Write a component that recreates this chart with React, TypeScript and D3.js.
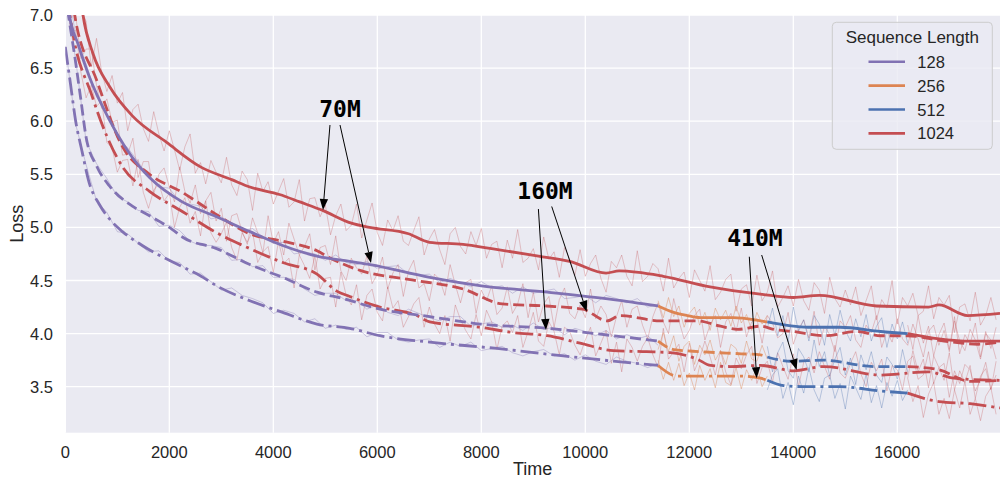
import React from "react";
import * as d3 from "d3";

const W = 1002;
const H = 480;
const PLOT = { left: 65.3, right: 1000, top: 15, bottom: 432.7 };

const X_MAX = 17975;
const Y_MIN = 3.067;
const Y_MAX = 7.0;
const xTicks = [0, 2000, 4000, 6000, 8000, 10000, 12000, 14000, 16000];
const yTicks = [3.5, 4.0, 4.5, 5.0, 5.5, 6.0, 6.5, 7.0];

const seqLengths = ["128", "256", "512", "1024"];
const seqColors = ["#8172B3", "#DD8452", "#4C72B0", "#C44E52"];
const modelNames = ["70M", "160M", "410M"];
const modelDash = ["none", "11,5", "18,5,3,5"];

// ---- smoothed curves: [time, loss] ----
// 128 phase (curriculum)
const p70 = [[0, 7.4], [80, 7.0], [250, 6.72], [460, 6.42], [850, 6.01], [1430, 5.57], [1620, 5.47], [2250, 5.24], [2910, 5.1], [3550, 4.96], [4180, 4.83], [4840, 4.73], [5470, 4.68], [5860, 4.65], [7010, 4.53], [8000, 4.45], [9270, 4.39], [10540, 4.32], [11400, 4.26]];
const p160 = [[0, 7.2], [60, 7.0], [200, 6.55], [300, 6.2], [400, 5.85], [600, 5.58], [850, 5.39], [1290, 5.2], [1620, 5.11], [2060, 4.98], [2250, 4.91], [2910, 4.8], [3550, 4.65], [4180, 4.53], [4840, 4.39], [5340, 4.33], [6050, 4.23], [7010, 4.16], [7980, 4.09], [9270, 4.05], [10540, 3.98], [11400, 3.93]];
const p410 = [[0, 6.7], [100, 6.35], [200, 6.0], [320, 5.72], [460, 5.42], [650, 5.22], [850, 5.08], [1100, 4.96], [1480, 4.83], [2250, 4.63], [2580, 4.55], [2910, 4.45], [3550, 4.31], [4180, 4.2], [4840, 4.09], [5470, 4.05], [6050, 3.98], [7010, 3.92], [8300, 3.86], [9580, 3.79], [11400, 3.7]];
// 256 phase
const o70 = [[11400, 4.26], [11700, 4.2], [11960, 4.17], [12215, 4.15], [12850, 4.15], [13370, 4.12], [13500, 4.11]];
const o160 = [[11400, 3.93], [11700, 3.85], [12215, 3.83], [13000, 3.81], [13370, 3.8], [13500, 3.78]];
const o410 = [[11400, 3.7], [11770, 3.6], [12270, 3.6], [13000, 3.6], [13370, 3.58], [13500, 3.56]];
// 512 phase
const b70 = [[13500, 4.11], [14280, 4.06], [14900, 4.06], [15680, 4.02], [16200, 4.0]];
const b160 = [[13500, 3.78], [13950, 3.74], [14580, 3.75], [15550, 3.69], [16200, 3.69]];
const b410 = [[13500, 3.56], [13815, 3.51], [14280, 3.5], [14900, 3.5], [15680, 3.46], [16200, 3.44]];
// 1024 phase of curriculum
const c70 = [[16200, 4.0], [16800, 3.95], [17300, 3.93], [17975, 3.93]];
const c160 = [[16200, 3.69], [16800, 3.66], [17400, 3.55], [17975, 3.56]];
const c410 = [[16200, 3.44], [16800, 3.36], [17400, 3.34], [17975, 3.3]];
// 1024 baselines
const r70 = [[0, 9.0], [200, 7.6], [340, 7.0], [530, 6.64], [860, 6.32], [1290, 6.05], [1950, 5.8], [2600, 5.57], [3200, 5.45], [3550, 5.38], [4120, 5.31], [4510, 5.24], [4950, 5.16], [5500, 5.04], [5850, 5.0], [6600, 4.94], [7000, 4.86], [7650, 4.84], [8200, 4.8], [9100, 4.73], [9700, 4.68], [10400, 4.57], [10650, 4.59], [11500, 4.54], [12400, 4.44], [13400, 4.37], [14000, 4.34], [14500, 4.36], [15600, 4.26], [16600, 4.25], [16800, 4.27], [17350, 4.17], [17975, 4.19]];
const r160 = [[0, 8.4], [180, 7.0], [600, 6.39], [1100, 5.76], [1620, 5.5], [2250, 5.33], [2910, 5.12], [3550, 4.94], [4180, 4.87], [4840, 4.78], [5100, 4.71], [5700, 4.59], [6600, 4.51], [7650, 4.42], [8400, 4.28], [9250, 4.26], [9950, 4.23], [10420, 4.12], [10670, 4.17], [11450, 4.12], [12150, 4.12], [12600, 4.07], [12930, 4.04], [13370, 4.07], [13620, 4.04], [14000, 4.02], [14590, 3.98], [15240, 4.02], [15680, 3.98], [16200, 3.98], [16900, 3.93], [17550, 3.9], [17975, 3.92]];
const r410 = [[0, 7.8], [90, 7.0], [520, 6.23], [1100, 5.57], [1620, 5.34], [2250, 5.15], [2910, 4.95], [3550, 4.8], [4180, 4.67], [4840, 4.56], [5220, 4.4], [5470, 4.35], [6050, 4.25], [6760, 4.17], [7010, 4.11], [7980, 4.06], [8610, 4.01], [9270, 3.98], [9900, 3.91], [10540, 3.84], [11180, 3.83], [11640, 3.82], [12150, 3.76], [12410, 3.7], [12790, 3.69], [13370, 3.7], [14010, 3.65], [14590, 3.69], [15680, 3.61], [16590, 3.64], [17090, 3.58], [17975, 3.56]];

// ---- raw (unsmoothed) traces: values at regular steps ----
const RED_RAW_START = 0;
const RED_RAW_STEP = 100;
const r70Raw = [8.25, 7.68, 7.58, 7.05, 6.94, 6.51, 6.78, 6.46, 6.28, 6.43, 6.17, 6.27, 5.91, 6.11, 6.16, 5.93, 5.81, 6.09, 5.88, 5.72, 5.91, 5.73, 5.54, 5.76, 5.88, 5.51, 5.61, 5.41, 5.63, 5.52, 5.42, 5.66, 5.4, 5.3, 5.53, 5.45, 5.16, 5.51, 5.34, 5.43, 5.22, 5.34, 5.46, 5.19, 5.24, 5.45, 5.06, 5.27, 5.28, 5.1, 5.21, 4.93, 5.11, 5.22, 4.97, 5.02, 5.22, 4.9, 5.07, 5.23, 4.95, 4.83, 5.07, 4.97, 5.11, 4.87, 4.83, 4.97, 5.1, 4.74, 4.89, 4.98, 4.79, 4.65, 4.94, 5.0, 4.82, 4.75, 4.96, 4.83, 4.99, 4.71, 4.84, 4.87, 4.62, 4.88, 4.71, 4.98, 4.67, 4.71, 4.8, 4.6, 4.91, 4.7, 4.77, 4.53, 4.81, 4.7, 4.55, 4.79, 4.54, 4.66, 4.74, 4.52, 4.39, 4.68, 4.62, 4.74, 4.54, 4.45, 4.78, 4.49, 4.54, 4.66, 4.61, 4.4, 4.71, 4.43, 4.52, 4.58, 4.34, 4.6, 4.5, 4.4, 4.64, 4.32, 4.39, 4.51, 4.56, 4.21, 4.42, 4.46, 4.26, 4.55, 4.31, 4.39, 4.59, 4.25, 4.34, 4.45, 4.26, 4.51, 4.31, 4.22, 4.48, 4.41, 4.19, 4.53, 4.33, 4.25, 4.41, 4.27, 4.44, 4.17, 4.31, 4.45, 4.13, 4.32, 4.24, 4.5, 4.09, 4.34, 4.26, 4.38, 4.17, 4.21, 4.45, 4.14, 4.34, 4.27, 4.36, 4.01, 4.25, 4.28, 4.12, 4.39, 4.08, 4.17, 4.34, 4.13];
const r160Raw = [7.91, 7.44, 7.0, 6.59, 6.68, 6.68, 6.34, 6.12, 6.21, 5.99, 6.01, 5.68, 5.69, 5.84, 5.47, 5.62, 5.62, 5.31, 5.5, 5.56, 5.38, 5.24, 5.57, 5.34, 5.23, 5.4, 5.13, 5.25, 5.33, 5.06, 5.18, 4.87, 5.11, 5.13, 4.96, 4.84, 5.09, 4.95, 4.76, 5.11, 4.85, 4.96, 4.74, 5.04, 4.89, 4.74, 4.82, 4.94, 4.6, 4.81, 4.83, 4.65, 4.92, 4.59, 4.5, 4.71, 4.62, 4.56, 4.73, 4.47, 4.56, 4.72, 4.42, 4.57, 4.65, 4.35, 4.59, 4.69, 4.43, 4.47, 4.31, 4.56, 4.51, 4.36, 4.65, 4.46, 4.29, 4.48, 4.51, 4.19, 4.41, 4.31, 4.45, 4.18, 4.24, 4.44, 4.19, 4.28, 4.47, 4.15, 4.39, 4.11, 4.28, 4.35, 4.06, 4.32, 4.43, 4.19, 4.14, 4.27, 4.15, 4.42, 4.14, 4.26, 4.18, 3.97, 4.16, 4.31, 4.06, 4.23, 4.26, 4.08, 3.95, 4.16, 4.29, 4.11, 4.0, 4.33, 4.12, 3.95, 4.03, 4.17, 4.23, 3.94, 4.08, 4.17, 3.87, 4.11, 4.19, 4.02, 4.24, 3.97, 4.11, 4.14, 3.91, 4.17, 4.1, 3.96, 4.0, 4.2, 3.9, 4.04, 4.13, 3.96, 4.21, 3.89, 4.07, 3.99, 3.83, 4.12, 4.06, 4.17, 3.94, 3.87, 4.08, 4.01, 4.17, 3.87, 4.02, 3.92, 4.14, 3.95, 3.89, 4.09, 3.95, 3.78, 4.02, 4.08, 3.89, 4.03, 3.83, 4.12, 3.93, 3.84, 4.04, 3.94, 3.76, 4.0, 3.94, 3.76];
const r410Raw = [7.67, 6.84, 6.86, 6.46, 6.22, 6.34, 6.14, 6.19, 5.8, 5.75, 5.52, 5.63, 5.64, 5.39, 5.64, 5.33, 5.18, 5.35, 5.41, 5.25, 5.32, 5.0, 5.19, 5.28, 5.04, 5.15, 4.92, 5.25, 4.95, 4.86, 4.94, 5.05, 4.81, 4.69, 4.95, 4.86, 4.96, 4.67, 4.77, 4.82, 4.58, 4.87, 4.66, 4.71, 4.43, 4.74, 4.64, 4.52, 4.73, 4.42, 4.52, 4.53, 4.25, 4.58, 4.36, 4.27, 4.46, 4.13, 4.36, 4.42, 4.2, 4.12, 4.44, 4.24, 4.31, 4.06, 4.16, 4.28, 4.34, 4.06, 4.25, 4.09, 4.0, 4.17, 3.93, 4.27, 4.13, 4.03, 3.95, 4.18, 3.98, 4.22, 4.11, 3.85, 4.07, 4.12, 4.01, 4.17, 3.87, 4.02, 4.2, 3.93, 3.88, 4.11, 4.02, 3.8, 4.06, 4.02, 3.89, 3.8, 3.94, 4.06, 3.79, 3.91, 4.03, 3.72, 3.92, 3.64, 3.95, 3.87, 3.74, 3.88, 3.96, 3.8, 3.68, 4.05, 3.76, 3.83, 3.9, 3.64, 3.91, 3.65, 3.77, 3.93, 3.78, 3.61, 3.84, 3.64, 3.52, 3.77, 3.67, 3.8, 3.88, 3.53, 3.68, 3.74, 3.54, 3.82, 3.69, 3.57, 3.81, 3.5, 3.73, 3.78, 3.63, 3.83, 3.69, 3.57, 3.89, 3.63, 3.58, 3.72, 3.83, 3.62, 3.5, 3.73, 3.65, 3.76, 3.46, 3.7, 3.66, 3.47, 3.74, 3.79, 3.57, 3.61, 3.83, 3.53, 3.68, 3.72, 3.4, 3.65, 3.53, 3.71, 3.66, 3.46, 3.57, 3.73, 3.48, 3.61];

const PURPLE_RAW_START = 0;
const PURPLE_RAW_STEP = 200;
const p70Raw = [7.43, 6.8, 6.54, 6.23, 6.07, 5.84, 5.75, 5.62, 5.47, 5.38, 5.37, 5.24, 5.22, 5.2, 5.08, 5.1, 5.03, 4.96, 4.99, 4.91, 4.85, 4.86, 4.75, 4.77, 4.75, 4.69, 4.74, 4.67, 4.65, 4.68, 4.61, 4.63, 4.64, 4.56, 4.55, 4.56, 4.48, 4.52, 4.48, 4.44, 4.49, 4.43, 4.45, 4.38, 4.44, 4.38, 4.4, 4.42, 4.33, 4.34, 4.36, 4.29, 4.36, 4.33, 4.29, 4.33, 4.25, 4.27];
const p160Raw = [7.18, 6.58, 5.81, 5.6, 5.46, 5.29, 5.24, 5.16, 5.15, 5.01, 5.02, 4.97, 4.87, 4.83, 4.83, 4.81, 4.69, 4.7, 4.63, 4.64, 4.53, 4.53, 4.51, 4.42, 4.36, 4.38, 4.38, 4.31, 4.31, 4.23, 4.27, 4.2, 4.17, 4.23, 4.19, 4.15, 4.12, 4.16, 4.16, 4.07, 4.09, 4.11, 4.06, 4.08, 4.03, 4.1, 4.04, 4.06, 3.99, 4.05, 4.02, 3.98, 4.03, 3.95, 3.99, 3.95, 3.98, 3.89];
const p410Raw = [6.71, 5.97, 5.59, 5.25, 5.14, 4.96, 4.94, 4.85, 4.77, 4.78, 4.68, 4.67, 4.56, 4.57, 4.49, 4.41, 4.43, 4.36, 4.33, 4.29, 4.19, 4.22, 4.19, 4.11, 4.14, 4.05, 4.08, 4.04, 4.06, 3.97, 4.01, 4.01, 3.94, 3.92, 3.94, 3.95, 3.87, 3.92, 3.88, 3.92, 3.84, 3.86, 3.88, 3.82, 3.79, 3.83, 3.85, 3.79, 3.81, 3.75, 3.8, 3.74, 3.71, 3.78, 3.74, 3.72, 3.68, 3.72];

const ORANGE_RAW_START = 11400;
const BLUE_RAW_START = 13500;
const CONT_RAW_START = 16200;
const PHASE_RAW_STEP = 100;
const o70Raw = [4.31, 4.15, 4.34, 4.16, 4.26, 4.06, 4.19, 4.25, 4.08, 4.2, 4.03, 4.24, 4.13, 4.22, 4.07, 4.26, 4.1, 4.18, 4.03, 4.2, 4.09, 4.17];
const o160Raw = [3.85, 4.01, 3.83, 3.98, 3.74, 3.88, 3.93, 3.71, 3.89, 3.8, 3.94, 3.75, 3.84, 3.71, 3.9, 3.86, 3.72, 3.93, 3.76, 3.74, 3.89, 3.76];
const o410Raw = [3.75, 3.57, 3.73, 3.56, 3.72, 3.51, 3.63, 3.47, 3.7, 3.56, 3.67, 3.49, 3.73, 3.54, 3.51, 3.68, 3.48, 3.66, 3.56, 3.69, 3.5, 3.6];
const b70Raw = [4.05, 4.24, 3.98, 4.17, 3.92, 4.25, 4.02, 4.13, 3.93, 4.17, 4.09, 3.89, 4.18, 3.98, 4.22, 4.03, 3.93, 4.14, 3.97, 4.18, 3.93, 4.07, 4.15, 3.87, 4.09, 3.95, 4.11, 3.91];
const b160Raw = [3.88, 3.64, 3.82, 3.92, 3.65, 3.58, 3.86, 3.78, 3.64, 3.94, 3.69, 3.83, 3.6, 3.76, 3.87, 3.61, 3.77, 3.52, 3.8, 3.66, 3.83, 3.61, 3.54, 3.78, 3.71, 3.57, 3.85, 3.64];
const b410Raw = [3.47, 3.61, 3.67, 3.39, 3.54, 3.33, 3.6, 3.44, 3.68, 3.47, 3.36, 3.58, 3.61, 3.39, 3.53, 3.29, 3.6, 3.49, 3.38, 3.62, 3.35, 3.51, 3.3, 3.54, 3.41, 3.56, 3.37, 3.47];
const c70Raw = [4.08, 3.85, 4.17, 3.91, 4.07, 3.79, 3.99, 4.1, 3.85, 4.16, 3.81, 3.99, 3.9, 4.1, 3.78, 4.02, 3.86, 4.06];
const c160Raw = [3.58, 3.84, 3.64, 3.76, 3.49, 3.79, 3.68, 3.56, 3.82, 3.47, 3.65, 3.54, 3.7, 3.39, 3.6, 3.67, 3.47, 3.74];
const c410Raw = [3.58, 3.36, 3.51, 3.21, 3.43, 3.54, 3.24, 3.39, 3.2, 3.47, 3.3, 3.55, 3.24, 3.39, 3.18, 3.41, 3.49, 3.24];

// ---- annotations ----
const annLabels = ["70M", "160M", "410M"];
const annTextAt = [[5283, 6.115], [9225, 5.347], [13263, 4.896]];
const annArrowFrom = [[[5090, 5.964], [5283, 5.964]], [[9098, 5.173], [9354, 5.197]], [[13154, 4.724], [13392, 4.74]]];
const annArrowTo = [[[4956, 5.164], [5879, 4.665]], [[9244, 4.034], [10027, 4.206]], [[13296, 3.579], [14065, 3.657]]];

const FONT = "'Liberation Sans', Arial, Helvetica, sans-serif";
const TEXT = "#262626";

export default function App() {
  const x = d3.scaleLinear().domain([0, X_MAX]).range([PLOT.left, PLOT.right]);
  const y = d3.scaleLinear().domain([Y_MIN, Y_MAX]).range([PLOT.bottom, PLOT.top]);
  const smooth = d3
    .line<number[]>()
    .x((d) => x(d[0]))
    .y((d) => y(d[1]))
    .curve(d3.curveMonotoneX);
  const raw = (vals: number[], start: number, step: number) =>
    d3
      .line<number>()
      .x((_, i) => x(start + i * step))
      .y((d) => y(d))(vals) || "";

  const baselines = [
    { m: 0, s: 3, d: r70 },
    { m: 1, s: 3, d: r160 },
    { m: 2, s: 3, d: r410 },
  ];
  const curriculum = [
    { m: 0, s: 0, d: p70 }, { m: 1, s: 0, d: p160 }, { m: 2, s: 0, d: p410 },
    { m: 0, s: 1, d: o70 }, { m: 1, s: 1, d: o160 }, { m: 2, s: 1, d: o410 },
    { m: 0, s: 2, d: b70 }, { m: 1, s: 2, d: b160 }, { m: 2, s: 2, d: b410 },
    { m: 0, s: 3, d: c70 }, { m: 1, s: 3, d: c160 }, { m: 2, s: 3, d: c410 },
  ];
  const raws = [
    { s: 3, v: r70Raw, st: RED_RAW_START, step: RED_RAW_STEP },
    { s: 3, v: r160Raw, st: RED_RAW_START, step: RED_RAW_STEP },
    { s: 3, v: r410Raw, st: RED_RAW_START, step: RED_RAW_STEP },
    { s: 0, v: p70Raw, st: PURPLE_RAW_START, step: PURPLE_RAW_STEP },
    { s: 0, v: p160Raw, st: PURPLE_RAW_START, step: PURPLE_RAW_STEP },
    { s: 0, v: p410Raw, st: PURPLE_RAW_START, step: PURPLE_RAW_STEP },
    { s: 1, v: o70Raw, st: ORANGE_RAW_START, step: PHASE_RAW_STEP },
    { s: 1, v: o160Raw, st: ORANGE_RAW_START, step: PHASE_RAW_STEP },
    { s: 1, v: o410Raw, st: ORANGE_RAW_START, step: PHASE_RAW_STEP },
    { s: 2, v: b70Raw, st: BLUE_RAW_START, step: PHASE_RAW_STEP },
    { s: 2, v: b160Raw, st: BLUE_RAW_START, step: PHASE_RAW_STEP },
    { s: 2, v: b410Raw, st: BLUE_RAW_START, step: PHASE_RAW_STEP },
    { s: 3, v: c70Raw, st: CONT_RAW_START, step: PHASE_RAW_STEP },
    { s: 3, v: c160Raw, st: CONT_RAW_START, step: PHASE_RAW_STEP },
    { s: 3, v: c410Raw, st: CONT_RAW_START, step: PHASE_RAW_STEP },
  ];
  const rawOpacity = [0.35, 0.4, 0.35, 0.3];

  const arrow = (from: number[], to: number[], key: string) => {
    const x1 = x(from[0]), y1 = y(from[1]), x2 = x(to[0]), y2 = y(to[1]);
    const dx = x2 - x1, dy = y2 - y1;
    const len = Math.hypot(dx, dy);
    const ux = dx / len, uy = dy / len;
    const hl = 11, hw = 4.2;
    const bx = x2 - ux * hl, by = y2 - uy * hl;
    const pts = `${x2},${y2} ${bx - uy * hw},${by + ux * hw} ${bx + uy * hw},${by - ux * hw}`;
    return (
      <g key={key}>
        <line x1={x1} y1={y1} x2={bx} y2={by} stroke="#000" strokeWidth={1} />
        <polygon points={pts} fill="#000" />
      </g>
    );
  };

  const legendX = 832.3, legendY = 22.3, legendW = 160, legendH = 127;

  return (
    <svg width={W} height={H} style={{ display: "block", position: "absolute", left: 0, top: 0 }} fontFamily={FONT}>
      <defs>
        <clipPath id="plotClip">
          <rect x={PLOT.left} y={PLOT.top} width={PLOT.right - PLOT.left} height={PLOT.bottom - PLOT.top} />
        </clipPath>
      </defs>
      <rect x={0} y={0} width={W} height={H} fill="#fff" />
      <rect x={PLOT.left} y={PLOT.top} width={PLOT.right - PLOT.left} height={PLOT.bottom - PLOT.top} fill="#EAEAF2" />
      {xTicks.map((t) => (
        <line key={"gx" + t} x1={x(t)} x2={x(t)} y1={PLOT.top} y2={PLOT.bottom} stroke="#fff" strokeWidth={1.3} />
      ))}
      {yTicks.map((t) => (
        <line key={"gy" + t} x1={PLOT.left} x2={PLOT.right} y1={y(t)} y2={y(t)} stroke="#fff" strokeWidth={1.3} />
      ))}
      <g clipPath="url(#plotClip)">
        {raws.map((r, i) => (
          <path key={"raw" + i} d={raw(r.v, r.st, r.step)} fill="none" stroke={seqColors[r.s]} strokeOpacity={rawOpacity[r.s]} strokeWidth={1} strokeLinejoin="round" />
        ))}
        {baselines.map((b, i) => (
          <path key={"base" + i} d={smooth(b.d) || ""} fill="none" stroke={seqColors[b.s]} strokeWidth={2.8} strokeDasharray={modelDash[b.m]} strokeLinecap="butt" strokeLinejoin="round" />
        ))}
        {curriculum.map((c, i) => (
          <path key={"cur" + i} d={smooth(c.d) || ""} fill="none" stroke={seqColors[c.s]} strokeWidth={2.8} strokeDasharray={modelDash[c.m]} strokeLinecap="butt" strokeLinejoin="round" />
        ))}
      </g>
      {annLabels.map((lab, i) => (
        <g key={"ann" + i}>
          {annArrowFrom[i].map((f, j) => arrow(f, annArrowTo[i][j], `a${i}-${j}`))}
          <text x={x(annTextAt[i][0])} y={y(annTextAt[i][1])} textAnchor="middle" dominantBaseline="central" fontFamily="'DejaVu Sans Mono', monospace" fontWeight="bold" fontSize={23} fill="#000">
            {lab}
          </text>
        </g>
      ))}
      {xTicks.map((t) => (
        <text key={"tx" + t} x={x(t)} y={458.3} textAnchor="middle" fontSize={16.5} fill={TEXT}>
          {t}
        </text>
      ))}
      {yTicks.map((t) => (
        <text key={"ty" + t} x={53} y={y(t) + 6} textAnchor="end" fontSize={16.5} fill={TEXT}>
          {t.toFixed(1)}
        </text>
      ))}
      <text x={(PLOT.left + PLOT.right) / 2} y={475} textAnchor="middle" fontSize={18} fill={TEXT}>
        Time
      </text>
      <text transform={`translate(22.5, ${(PLOT.top + PLOT.bottom) / 2}) rotate(-90)`} textAnchor="middle" fontSize={18} fill={TEXT}>
        Loss
      </text>
      <g>
        <rect x={legendX} y={legendY} width={legendW} height={legendH} rx={4} fill="#EAEAF2" fillOpacity={0.8} stroke="#cccccc" strokeWidth={1} />
        <text x={legendX + legendW / 2} y={43.3} textAnchor="middle" fontSize={17} fill={TEXT}>
          Sequence Length
        </text>
        {seqLengths.map((s, i) => {
          const ly = 61.7 + i * 23.9;
          return (
            <g key={"leg" + s}>
              <line x1={868.5} x2={905} y1={ly} y2={ly} stroke={seqColors[i]} strokeWidth={2.6} />
              <text x={917.3} y={ly + 6} fontSize={16.5} fill={TEXT}>
                {s}
              </text>
            </g>
          );
        })}
      </g>
    </svg>
  );
}
